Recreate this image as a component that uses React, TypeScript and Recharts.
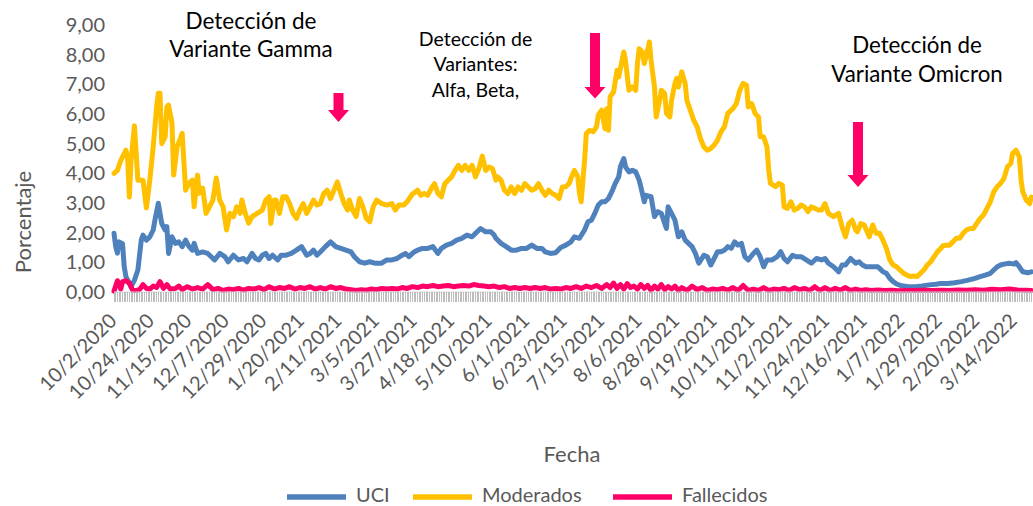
import React from 'react';
import { LineChart, Line, XAxis, YAxis } from 'recharts';

// Day index 0 = 10/2/2020; one category per day
const dateLabels = [
  '10/2/2020', '10/24/2020', '11/15/2020', '12/7/2020', '12/29/2020', '1/20/2021',
  '2/11/2021', '3/5/2021', '3/27/2021', '4/18/2021', '5/10/2021', '6/1/2021',
  '6/23/2021', '7/15/2021', '8/6/2021', '8/28/2021', '9/19/2021', '10/11/2021',
  '11/2/2021', '11/24/2021', '12/16/2021', '1/7/2022', '1/29/2022', '2/20/2022', '3/14/2022',
];
const LABEL_STEP = 22;
const LAST_DAY = 539;
const yTicks = [0, 1, 2, 3, 4, 5, 6, 7, 8, 9];

const seriesNames = ['UCI', 'Moderados', 'Fallecidos'];
const seriesColors = ['#4F81BD', '#FFC000', '#FF0066'];

// [day, value]
const uci: [number, number][] = [
  [0,1.98],[1,1.53],[2,1.31],[3,1.69],[5,1.63],[6,0.85],[7,0.52],[9,0.3],[10,0.18],[12,0.4],[14,0.74],[16,1.75],[17,1.92],[19,1.75],[21,1.86],[23,2.09],[24,2.42],[26,2.99],[27,2.65],[28,2.31],[30,2.09],[31,2.2],[32,1.3],[34,1.86],[36,1.64],[38,1.69],[40,1.53],[42,1.75],[44,1.53],[46,1.41],[47,1.64],[49,1.3],[52,1.35],[55,1.3],[57,1.19],[59,1.08],[62,1.3],[65,1.19],[67,1.02],[70,1.24],[73,1.08],[76,1.13],[78,1.02],[81,1.3],[83,1.13],[85,1.08],[87,1.24],[89,1.3],[91,1.13],[93,1.24],[96,1.08],[98,1.24],[101,1.24],[104,1.3],[107,1.41],[110,1.53],[113,1.24],[115,1.3],[117,1.41],[119,1.24],[121,1.35],[124,1.53],[127,1.69],[130,1.53],[133,1.47],[136,1.41],[139,1.35],[141,1.19],[144,1.02],[147,0.97],[150,1.02],[153,0.97],[157,0.97],[160,1.08],[163,1.08],[166,1.13],[169,1.24],[171,1.3],[173,1.19],[176,1.35],[178,1.41],[181,1.47],[184,1.47],[187,1.53],[190,1.3],[192,1.47],[195,1.58],[198,1.64],[201,1.75],[204,1.81],[207,1.92],[210,1.86],[213,2.03],[215,2.14],[218,2.03],[221,2.03],[223,1.92],[224,1.81],[227,1.64],[230,1.53],[233,1.41],[236,1.41],[239,1.47],[242,1.47],[245,1.58],[248,1.47],[251,1.47],[253,1.35],[256,1.3],[259,1.32],[262,1.5],[265,1.58],[268,1.69],[270,1.86],[273,1.81],[276,2.09],[278,2.37],[280,2.42],[282,2.65],[284,2.93],[286,3.04],[288,3.04],[290,3.15],[292,3.38],[294,3.66],[296,3.88],[297,4.22],[299,4.5],[300,4.22],[302,4.05],[304,4.1],[306,4.05],[308,3.77],[309,3.54],[311,3.04],[312,3.26],[315,3.21],[317,2.54],[319,2.71],[321,2.65],[324,2.14],[325,2.87],[327,2.65],[329,2.42],[331,1.86],[333,2.03],[335,1.75],[337,1.64],[339,1.53],[341,1.3],[343,0.97],[346,1.24],[348,1.19],[350,0.91],[352,1.13],[354,1.36],[356,1.36],[358,1.41],[360,1.53],[362,1.47],[364,1.69],[366,1.58],[368,1.64],[370,1.19],[372,1.08],[375,1.3],[377,1.41],[379,1.19],[381,0.85],[383,1.08],[386,1.08],[389,1.19],[391,1.36],[393,1.13],[395,1.02],[398,1.24],[400,1.19],[403,1.19],[406,1.08],[409,0.97],[412,1.13],[415,1.08],[417,1.13],[419,0.97],[422,0.85],[425,0.68],[427,0.91],[429,0.91],[432,1.13],[435,0.97],[437,1.02],[439,0.91],[441,0.85],[444,0.85],[448,0.85],[449,0.8],[451,0.68],[453,0.63],[455,0.46],[457,0.35],[459,0.27],[462,0.21],[466,0.18],[470,0.18],[474,0.2],[478,0.24],[482,0.26],[485,0.29],[489,0.29],[493,0.31],[497,0.35],[501,0.4],[505,0.46],[508,0.52],[511,0.57],[514,0.63],[516,0.74],[518,0.85],[520,0.91],[522,0.94],[525,0.97],[528,0.94],[529,0.99],[531,0.85],[533,0.68],[536,0.65],[538,0.68],
];

const moderados: [number, number][] = [
  [0,4.0],[2,4.1],[4,4.44],[7,4.78],[8,4.5],[9,3.2],[10,4.44],[12,5.6],[14,3.77],[17,3.77],[19,2.83],[21,3.77],[23,4.9],[25,6.24],[26,6.7],[27,6.7],[28,5.0],[30,5.23],[31,6.24],[32,6.3],[34,5.7],[35,3.94],[37,4.9],[39,5.18],[40,5.35],[42,3.43],[44,3.67],[46,3.77],[47,2.87],[49,3.94],[50,3.33],[52,3.5],[54,2.65],[56,2.87],[58,3.1],[60,3.84],[62,3.1],[64,2.87],[66,2.09],[68,2.65],[70,2.54],[72,2.87],[74,2.65],[75,3.1],[77,2.65],[79,2.32],[81,2.54],[84,2.65],[87,2.76],[89,3.1],[91,3.21],[92,2.31],[94,3.1],[95,3.1],[97,2.65],[99,3.21],[101,3.21],[103,2.98],[105,2.65],[107,2.48],[109,2.76],[111,2.98],[113,2.65],[115,2.87],[117,3.1],[119,2.93],[121,2.98],[123,3.32],[125,3.43],[127,3.15],[129,3.43],[131,3.71],[133,3.32],[135,2.98],[137,2.76],[138,3.1],[140,2.76],[142,2.54],[144,3.15],[146,2.87],[148,2.48],[150,2.37],[152,2.87],[154,3.1],[157,2.98],[160,2.93],[163,2.98],[165,2.76],[167,2.93],[170,2.93],[172,3.05],[175,3.3],[177,3.38],[178,3.43],[180,3.26],[182,3.32],[184,3.26],[186,3.48],[188,3.65],[190,3.32],[192,3.21],[194,3.65],[196,3.77],[198,3.88],[200,4.1],[202,4.27],[204,4.1],[206,4.27],[208,4.1],[210,4.27],[212,3.88],[214,4.16],[216,4.58],[218,4.1],[220,4.21],[222,4.16],[224,3.77],[225,3.88],[227,3.77],[229,3.43],[231,3.32],[233,3.54],[235,3.32],[237,3.54],[239,3.43],[241,3.65],[243,3.54],[245,3.43],[247,3.48],[249,3.65],[251,3.43],[253,3.26],[255,3.43],[257,3.32],[259,3.26],[261,3.15],[263,3.54],[265,3.55],[267,3.66],[268,3.83],[270,4.1],[272,3.88],[273,3.32],[274,3.04],[276,4.44],[277,5.34],[279,5.45],[281,5.4],[283,5.57],[284,5.96],[286,6.13],[288,5.5],[289,6.18],[290,5.45],[291,6.58],[293,6.74],[295,7.47],[296,7.25],[298,7.81],[299,8.09],[300,7.8],[302,6.8],[304,6.91],[306,6.8],[307,7.7],[308,8.2],[310,8.08],[311,7.7],[313,8.15],[314,8.43],[315,7.81],[317,6.91],[318,5.9],[320,6.46],[321,6.8],[323,6.69],[324,6.02],[326,5.9],[327,6.46],[329,7.03],[330,7.2],[331,6.91],[333,7.42],[335,7.03],[336,6.46],[338,6.13],[340,5.79],[342,5.57],[344,5.17],[346,4.89],[348,4.78],[350,4.84],[352,4.95],[354,5.12],[356,5.4],[358,5.57],[360,6.02],[363,6.18],[365,6.35],[367,6.8],[369,7.03],[371,6.97],[372,6.24],[374,6.35],[376,6.02],[378,5.9],[379,5.23],[381,5.23],[383,4.89],[384,4.1],[385,3.66],[388,3.55],[390,3.66],[392,3.6],[393,2.87],[395,2.82],[397,3.04],[399,2.76],[401,2.82],[403,2.93],[405,2.87],[407,2.71],[409,2.87],[411,2.82],[413,2.76],[415,2.76],[417,2.98],[419,2.65],[422,2.54],[425,2.65],[427,2.2],[429,1.86],[431,2.31],[433,2.42],[435,2.09],[436,2.03],[438,2.31],[440,2.26],[443,1.86],[445,2.26],[447,1.98],[449,1.98],[451,1.75],[453,1.47],[455,1.08],[457,0.91],[459,0.85],[461,0.74],[463,0.63],[465,0.57],[467,0.52],[469,0.54],[471,0.52],[473,0.63],[475,0.74],[477,0.91],[479,1.02],[481,1.19],[483,1.36],[485,1.47],[486,1.55],[488,1.58],[490,1.58],[492,1.69],[494,1.81],[496,1.81],[498,1.98],[500,2.09],[502,2.14],[504,2.14],[506,2.31],[508,2.48],[510,2.6],[512,2.82],[514,3.04],[516,3.38],[518,3.55],[520,3.66],[522,3.83],[524,4.22],[526,4.33],[527,4.67],[529,4.78],[531,4.55],[532,3.77],[533,3.38],[535,3.1],[537,2.98],[538,3.2],
];

const fallecidos: [number, number][] = [
  [0,0.03],[2,0.38],[4,0.1],[5,0.35],[7,0.38],[9,0.3],[11,0.05],[13,0.05],[15,0.08],[17,0.25],[19,0.12],[21,0.1],[23,0.2],[25,0.15],[27,0.35],[29,0.12],[31,0.25],[33,0.1],[36,0.12],[38,0.2],[40,0.08],[43,0.18],[46,0.1],[49,0.15],[52,0.1],[55,0.25],[58,0.08],[61,0.12],[64,0.05],[67,0.1],[70,0.08],[73,0.12],[76,0.06],[79,0.12],[82,0.1],[85,0.15],[88,0.08],[91,0.18],[94,0.1],[97,0.15],[100,0.12],[103,0.18],[106,0.1],[109,0.15],[112,0.12],[115,0.18],[118,0.1],[121,0.15],[124,0.1],[127,0.18],[130,0.12],[133,0.15],[136,0.1],[139,0.08],[142,0.05],[145,0.08],[148,0.06],[151,0.1],[154,0.08],[157,0.12],[160,0.1],[163,0.12],[166,0.1],[169,0.15],[172,0.12],[175,0.18],[178,0.15],[181,0.2],[184,0.18],[187,0.22],[190,0.18],[193,0.2],[196,0.22],[199,0.18],[202,0.2],[205,0.22],[208,0.2],[211,0.25],[214,0.22],[217,0.2],[220,0.18],[223,0.2],[226,0.15],[229,0.18],[232,0.12],[235,0.15],[238,0.12],[241,0.15],[244,0.12],[247,0.15],[250,0.12],[253,0.15],[256,0.1],[259,0.12],[262,0.1],[265,0.15],[268,0.12],[271,0.18],[274,0.12],[277,0.2],[280,0.15],[283,0.22],[286,0.12],[289,0.25],[291,0.15],[293,0.3],[295,0.12],[297,0.25],[299,0.1],[301,0.28],[303,0.15],[305,0.2],[307,0.1],[309,0.25],[311,0.12],[313,0.22],[315,0.05],[317,0.2],[319,0.1],[321,0.25],[323,0.08],[325,0.18],[327,0.1],[329,0.2],[331,0.05],[333,0.15],[336,0.05],[339,0.2],[342,0.08],[345,0.15],[348,0.05],[351,0.1],[354,0.08],[357,0.12],[360,0.06],[363,0.15],[366,0.05],[369,0.22],[372,0.05],[375,0.1],[378,0.05],[381,0.15],[384,0.05],[387,0.1],[390,0.08],[393,0.12],[396,0.05],[399,0.15],[402,0.08],[405,0.12],[408,0.05],[411,0.18],[414,0.05],[417,0.15],[420,0.05],[423,0.12],[426,0.06],[429,0.15],[432,0.05],[435,0.1],[438,0.05],[441,0.08],[444,0.05],[448,0.07],[452,0.05],[456,0.06],[460,0.04],[465,0.05],[470,0.05],[475,0.06],[480,0.05],[485,0.06],[490,0.05],[495,0.07],[500,0.06],[505,0.08],[510,0.06],[515,0.09],[520,0.08],[525,0.1],[530,0.07],[535,0.06],[538,0.05],
];

const seriesData = [uci, moderados, fallecidos].map((pairs) =>
  pairs.map(([day, v]) => ({ day, v }))
);

const allDays = Array.from({ length: LAST_DAY + 1 }, (_, i) => i);

const W = 1033;
const H = 506;
const FONT = 'Lato, "Open Sans", sans-serif';
const GRAY = '#595959';
const PINK = '#FF0066';
const TICK_LEN = 10;

function XTick(props: any) {
  const { x, y, payload } = props;
  const d = payload.value;
  const label = d % LABEL_STEP === 0 ? dateLabels[d / LABEL_STEP] : undefined;
  if (!label) return <g />;
  const ax = x + 4;
  const ay = y + 20;
  return (
    <text
      x={ax}
      y={ay}
      textAnchor="end"
      fill={GRAY}
      fontSize={20}
      fontFamily={FONT}
      transform={`rotate(-45 ${ax} ${ay})`}
    >
      {label}
    </text>
  );
}

function Arrow({ cx, top, headTop, tip }: { cx: number; top: number; headTop: number; tip: number }) {
  const sw = 5;
  const hw = 10.5;
  return (
    <polygon
      fill={PINK}
      points={`${cx - sw},${top} ${cx + sw},${top} ${cx + sw},${headTop} ${cx + hw},${headTop} ${cx},${tip} ${cx - hw},${headTop} ${cx - sw},${headTop}`}
    />
  );
}

const legendItems = [
  { name: seriesNames[0], color: seriesColors[0], x: 287 },
  { name: seriesNames[1], color: seriesColors[1], x: 413 },
  { name: seriesNames[2], color: seriesColors[2], x: 613 },
];

export default function App() {
  return (
    <div style={{ position: 'absolute', left: 0, top: 0, width: W, height: H, background: '#fff' }}>
      <LineChart width={W} height={H} margin={{ top: 25, right: 0, bottom: 0, left: 0 }}>
        <XAxis
          type="number"
          dataKey="day"
          domain={[0, LAST_DAY]}
          ticks={allDays}
          interval={0}
          height={214}
          axisLine={{ stroke: '#D9D9D9', strokeWidth: 1 }}
          tickLine={{ stroke: '#BDBDBD', strokeWidth: 1, shapeRendering: 'crispEdges' }}
          tickSize={TICK_LEN}
          tickMargin={0}
          tick={<XTick />}
        />
        <YAxis
          type="number"
          domain={[0, 9]}
          ticks={yTicks}
          width={114}
          axisLine={false}
          tickLine={false}
          tickSize={0}
          tickMargin={9}
          tickFormatter={(v: number) => v.toFixed(2).replace('.', ',')}
          tick={{ fill: GRAY, fontSize: 20, fontFamily: FONT }}
        />
        {seriesData.map((data, i) => (
          <Line
            key={seriesNames[i]}
            data={data}
            dataKey="v"
            name={seriesNames[i]}
            type="linear"
            stroke={seriesColors[i]}
            strokeWidth={5}
            strokeLinejoin="round"
            strokeLinecap="round"
            dot={false}
            activeDot={false}
            isAnimationActive={false}
          />
        ))}
      </LineChart>
      <svg
        width={W}
        height={H}
        style={{ position: 'absolute', left: 0, top: 0, pointerEvents: 'none' }}
      >
        <g fontFamily={FONT} fill="#000" textAnchor="middle">
          <text x={251} y={28.5} fontSize={22.5}>Detección de</text>
          <text x={251} y={57} fontSize={22.5}>Variante Gamma</text>
          <text x={475.5} y={45.5} fontSize={19.5}>Detección de</text>
          <text x={475.5} y={71} fontSize={19.5}>Variantes:</text>
          <text x={475.5} y={96.5} fontSize={19.5}>Alfa, Beta,</text>
          <text x={917} y={53} fontSize={22.3}>Detección de</text>
          <text x={917} y={81.5} fontSize={22.3}>Variante Omicron</text>
        </g>
        <Arrow cx={338.5} top={93} headTop={110} tip={122} />
        <Arrow cx={595} top={33} headTop={87} tip={98.5} />
        <Arrow cx={858} top={122} headTop={175} tip={187} />
        <text
          x={22}
          y={222}
          fontSize={22}
          fontFamily={FONT}
          fill={GRAY}
          textAnchor="middle"
          dominantBaseline="central"
          transform="rotate(-90 22 222)"
        >
          Porcentaje
        </text>
        <text x={572} y={453} fontSize={22} fontFamily={FONT} fill={GRAY} textAnchor="middle" dominantBaseline="central">
          Fecha
        </text>
        {legendItems.map((it) => (
          <g key={it.name}>
            <line x1={it.x} x2={it.x + 59} y1={497} y2={497} stroke={it.color} strokeWidth={5.5} />
            <text x={it.x + 69} y={494} fontSize={20} fontFamily={FONT} fill={GRAY} dominantBaseline="central">
              {it.name}
            </text>
          </g>
        ))}
      </svg>
    </div>
  );
}
